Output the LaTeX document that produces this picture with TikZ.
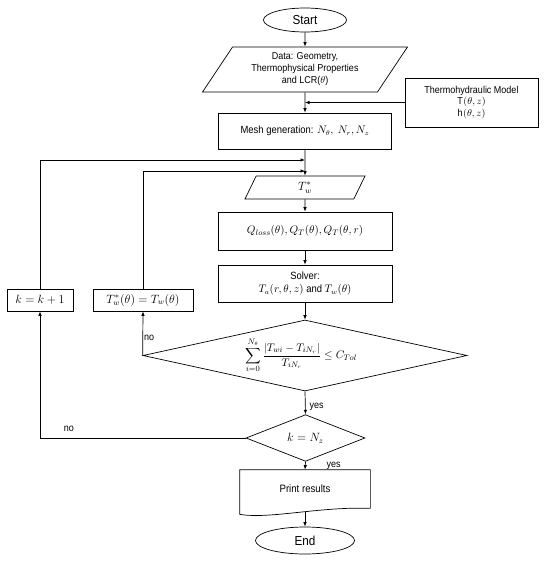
\documentclass[tikz,border=0pt]{standalone}
\usepackage{fontspec}
\setmainfont{Liberation Sans}[FakeStretch=0.9]
\usepackage{amsmath}
\usetikzlibrary{shapes.geometric, positioning, arrows.meta, calc}

\begin{document}
\begin{tikzpicture}[x=1pt, y=-1pt, line width=0.7pt,
          trm/.style={ellipse, draw, inner sep=0pt,
                      font=\fontsize{13}{15}\selectfont},
          iob/.style={trapezium, trapezium stretches body, draw,
                      align=center, inner sep=0pt},
          pbx/.style={rectangle, draw, align=center, inner sep=0pt},
          dec/.style={diamond, draw, inner sep=0pt},
          arr/.style={-{Latex[length=4.5pt, width=3.5pt]}},
          lbl/.style={font=\fontsize{10}{12}\selectfont, inner sep=1pt}
        ]
        \useasboundingbox (0,0) rectangle (550,562);

        % Start / End
        \node[trm, minimum width=83pt, minimum height=24pt]
              (start) at (305, 20) {Start};
        \node[trm, minimum width=99pt, minimum height=27pt]
              (stop) at (305, 540.5) {End};

        % Input data
        \node[iob, trapezium left angle=47.7, trapezium right angle=132.3,
              minimum width=205pt, minimum height=45pt,
              font=\fontsize{10}{12}\selectfont]
              (data) at (305, 69.5)
              {Data: Geometry,\\Thermophysical Properties\\and LCR($\theta$)};
        \node[pbx, minimum width=133pt, minimum height=49pt,
              font=\fontsize{10}{11.7}\selectfont]
              (thm) at (471.5, 102.5)
              {Thermohydraulic Model\\$\mathrm{T}(\theta,z)$\\$\mathrm{h}(\theta,z)$};

        % Main column
        \node[pbx, minimum width=173pt, minimum height=36pt,
              font=\fontsize{10.5}{12.5}\selectfont]
              (mesh) at (305, 131) {Mesh generation: $N_\theta,\ N_r, N_z$};
        \node[iob, trapezium left angle=45, trapezium right angle=135,
              minimum width=120pt, minimum height=23pt,
              font=\fontsize{12}{14}\selectfont]
              (tws) at (305, 187.5) {$T_w^*$};
        \node[pbx, minimum width=174pt, minimum height=38pt,
              font=\fontsize{11}{13}\selectfont]
              (qsrc) at (305, 231)
              {$Q_{loss}(\theta), Q_T(\theta), Q_T(\theta,r)$};
        \node[pbx, minimum width=174pt, minimum height=37pt,
              font=\fontsize{10.5}{13}\selectfont]
              (solv) at (305, 283.5)
              {Solver:\\$T_a(r,\theta,z)$ and $T_w(\theta)$};

        % Convergence check
        \node[dec, minimum width=324pt, minimum height=71pt,
              label={[font=\fontsize{11}{13}\selectfont, xshift=-4pt]center:$\displaystyle
                \sum_{i=0}^{N_\theta}\frac{\left|T_{wi}-T_{iN_r}\right|}{T_{iN_r}}\le C_{Tol}$}]
              (chk) at (305, 355.5) {};
        \node[dec, minimum width=119pt, minimum height=42pt,
              font=\fontsize{12}{14}\selectfont]
              (kchk) at (305.5, 438) {$k = N_z$};

        % Update boxes
        \node[pbx, minimum width=66pt, minimum height=22pt,
              font=\fontsize{12}{14}\selectfont]
              (kinc) at (40, 300) {$k = k+1$};
        \node[pbx, minimum width=100pt, minimum height=22pt,
              font=\fontsize{12}{14}\selectfont]
              (upd) at (143, 300) {$T_w^*(\theta) = T_w(\theta)$};

        % Print results (document shape)
        \node[rectangle, minimum width=130pt, minimum height=38pt,
              font=\fontsize{10.7}{13}\selectfont]
              (prt) at (305, 489) {Print results};
        \draw (prt.south east) -- (prt.north east) -- (prt.north west)
              -- ($(prt.south west)+(0,6)$)
              .. controls ($(prt.south west)+(30,11)$) and ($(prt.south)+(15,-2)$)
              .. (prt.south east) -- cycle;

        % Loop entry points
        \coordinate (loopk) at (305, 160);
        \coordinate (loopt) at (305, 171);
        \coordinate (prtout) at ($(prt.south)+(0,4)$);

        % Main flow
        \draw[arr] (start) -- (data);
        \draw[arr] (data) -- (mesh);
        \draw[arr] (thm.west) -- (thm.west -| mesh.north);
        \draw[arr] (mesh) -- (tws);
        \draw[arr] (tws) -- (qsrc);
        \draw[arr] (qsrc) -- (solv);
        \draw[arr] (solv) -- (chk);
        % Not converged
        \draw[arr] (chk.west) -- node[lbl, pos=0.4, right] {no} (upd.south);
        \draw[arr] (upd.north) |- (loopt);
        % Converged
        \draw[arr] (chk.south) -- node[lbl, pos=0.69, right=3pt] {yes} (kchk.north);
        \draw[arr] (kchk.west) -| node[lbl, pos=0.43, above=5pt] {no} (kinc.south);
        \draw[arr] (kinc.north) |- (loopk);
        \draw[arr] (kchk.south) -- node[lbl, pos=0.5, right=20pt] {yes} (prt.north);
        \draw[arr] (prtout) -- (stop);
      \end{tikzpicture}
\end{document}
